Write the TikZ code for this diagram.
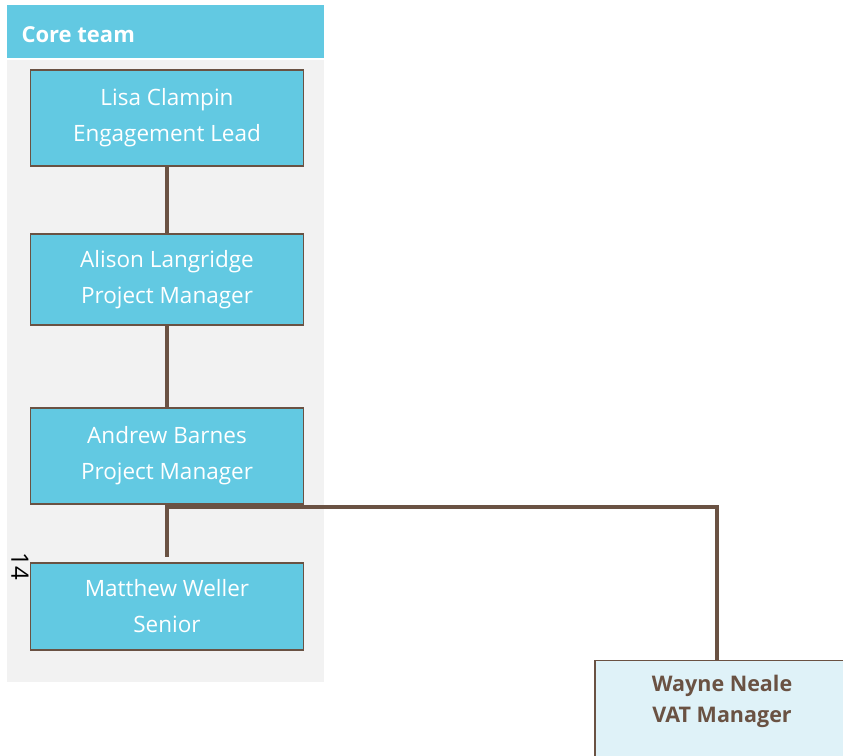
\documentclass[tikz,border=0pt]{standalone}
\usepackage{fontspec}
\setmainfont{Open Sans}
\usetikzlibrary{positioning}

\definecolor{teamcyan}{HTML}{62C9E2}
\definecolor{teambrown}{HTML}{6A5243}
\definecolor{panelgrey}{HTML}{F2F2F2}
\definecolor{vatblue}{HTML}{DFF2F8}

\begin{document}
\begin{tikzpicture}[x=1pt,y=1pt,
    member/.style={draw=teambrown,line width=1.5pt,fill=teamcyan,text=white,
      align=center,minimum width=273pt,font=\fontsize{22.5}{36}\selectfont},
    vatbox/.style={draw=teambrown,line width=1.5pt,fill=vatblue,text=teambrown,
      align=center,minimum width=254pt,text depth=60pt,
      font=\fontsize{21.5}{31}\selectfont\bfseries},
    link/.style={draw=teambrown,line width=4.5pt}]
      \useasboundingbox (0,0) rectangle (843,755);
      \clip (0,0) rectangle (843,755);
      % Core team panel and header
      \fill[panelgrey] (7,73) rectangle (324,695);
      \fill[teamcyan] (7,697) rectangle (324,750);
      \node[anchor=west,text=white,font=\fontsize{22}{24}\selectfont\bfseries] (title) at (18,720) {Core team};
      % Team members
      \node[member,minimum height=96pt] (lisa) at (167,637) {Lisa Clampin\\Engagement Lead};
      \node[member,minimum height=91pt] (alison) at (167,475.5) {Alison Langridge\\Project Manager};
      \node[member,minimum height=96pt] (andrew) at (167,299) {Andrew Barnes\\Project Manager};
      \node[member,minimum height=87pt] (matthew) at (167,148.5) {Matthew Weller\\Senior};
      \node[rotate=-90,font=\fontsize{24}{26}\selectfont] (pagenum) at (20,189) {14};
      % VAT specialist
      \node[vatbox,anchor=north] (wayne) at (722,95) {\rule{0pt}{27pt}Wayne Neale\\VAT Manager};
      % Reporting lines
      \coordinate (stub) at (167,198);
      \coordinate (tee) at (167,248);
      \draw[link] (lisa) -- (alison);
      \draw[link] (alison) -- (andrew);
      \draw[link] (andrew) -- (stub);
      \draw[link] (tee) -| ([xshift=-5pt]wayne.north);
    \end{tikzpicture}
\end{document}
